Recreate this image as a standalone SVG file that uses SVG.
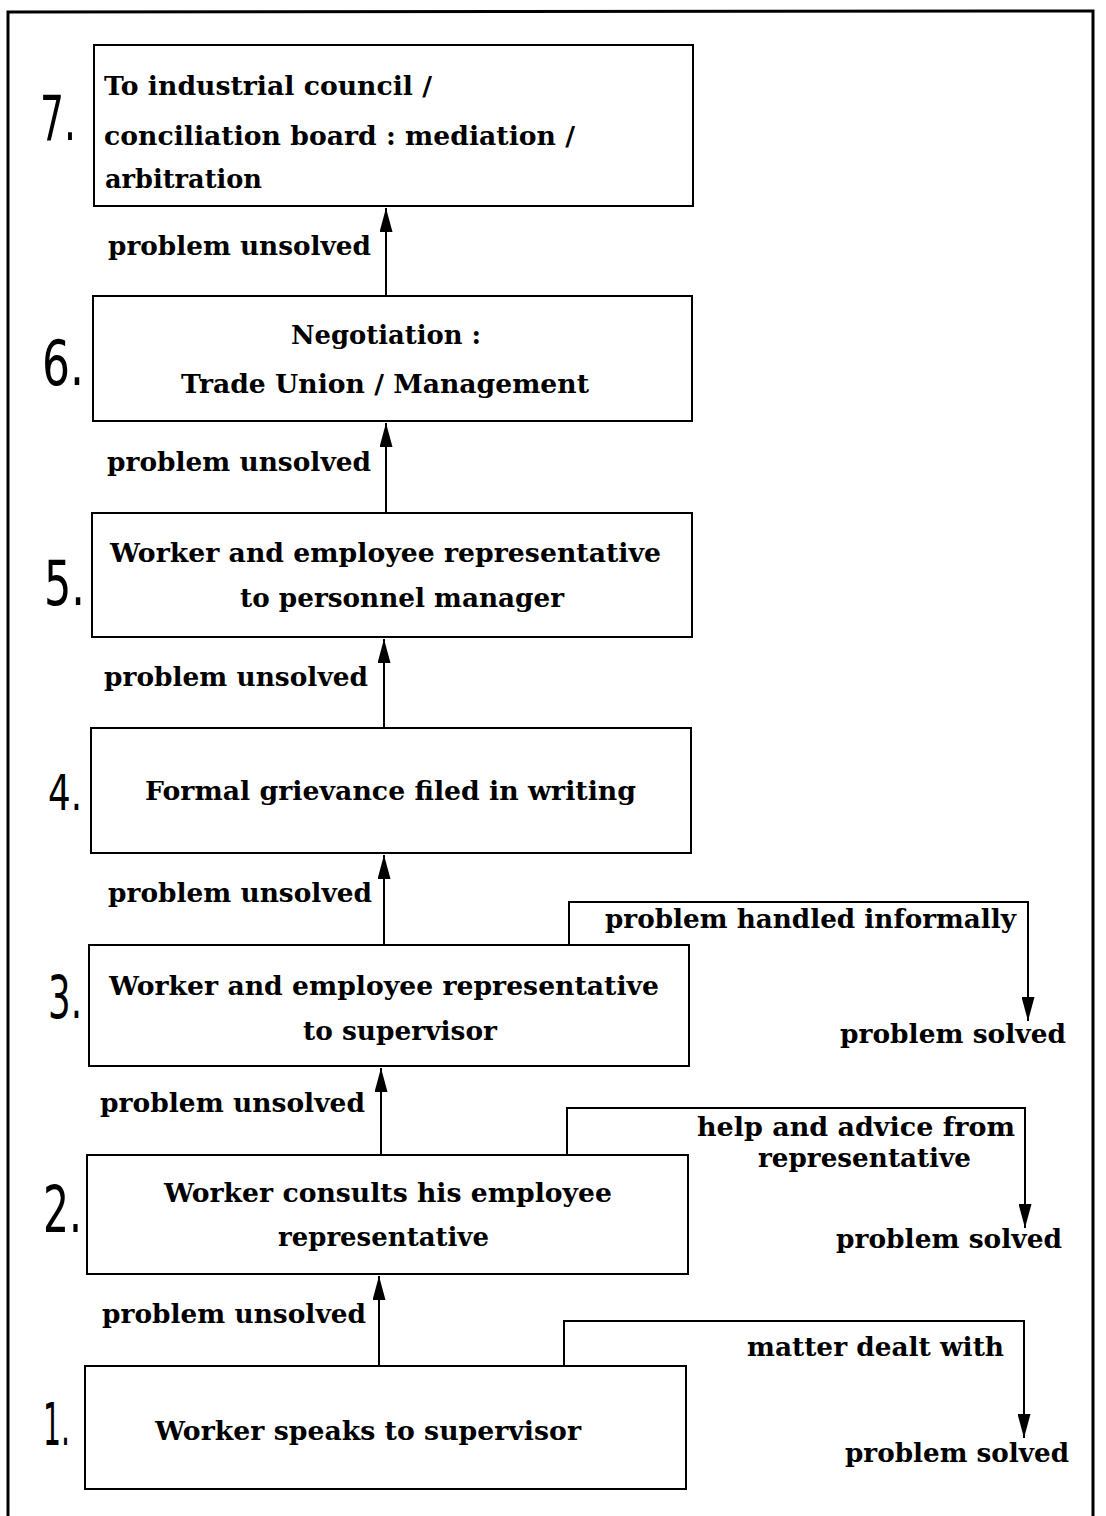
<svg xmlns="http://www.w3.org/2000/svg" width="1106" height="1516" viewBox="0 0 1106 1516">
  <style>
    .box { fill: #fff; stroke: #000; stroke-width: 2; }
    .t { font-family: "DejaVu Serif", "Liberation Serif", serif; font-weight: bold; font-size: 26px; fill: #000; }
    .num { font-family: "DejaVu Sans", "Liberation Sans", sans-serif; fill: #000; }
    .line { fill: none; stroke: #000; stroke-width: 2; }
  </style>
  <defs>
    <!-- long filled arrowhead pointing along the line direction; tip sits at the line end -->
    <marker id="head" viewBox="0 0 24 13" refX="24" refY="6.5" markerWidth="24" markerHeight="13" markerUnits="userSpaceOnUse" orient="auto">
      <path d="M0,0 L24,6.5 L0,13 Z" fill="#000"/>
    </marker>
  </defs>

  <!-- outer frame, open at the bottom -->
  <path d="M8,1516 L8,12 L1093,11 L1093,1516" fill="none" stroke="#000" stroke-width="3"/>

  <!-- connectors -->
  <g id="connectors">
    <line class="line" x1="386" y1="295" x2="386" y2="208" marker-end="url(#head)"/>
    <line class="line" x1="386" y1="512" x2="386" y2="423" marker-end="url(#head)"/>
    <line class="line" x1="384" y1="727" x2="384" y2="639" marker-end="url(#head)"/>
    <line class="line" x1="384" y1="944" x2="384" y2="855" marker-end="url(#head)"/>
    <line class="line" x1="381" y1="1154" x2="381" y2="1068" marker-end="url(#head)"/>
    <line class="line" x1="379" y1="1365" x2="379" y2="1276" marker-end="url(#head)"/>

    <polyline class="line" points="569,945 569,902 1028,902 1028,1021" marker-end="url(#head)"/>
    <polyline class="line" points="567,1155 567,1108 1025,1108 1025,1228" marker-end="url(#head)"/>
    <polyline class="line" points="564,1366 564,1321 1024,1321 1024,1438" marker-end="url(#head)"/>

    <text class="t" x="108" y="255" textLength="263" lengthAdjust="spacingAndGlyphs">problem unsolved</text>
    <text class="t" x="107" y="471" textLength="264" lengthAdjust="spacingAndGlyphs">problem unsolved</text>
    <text class="t" x="104" y="686" textLength="264" lengthAdjust="spacingAndGlyphs">problem unsolved</text>
    <text class="t" x="108" y="902" textLength="264" lengthAdjust="spacingAndGlyphs">problem unsolved</text>
    <text class="t" x="100" y="1112" textLength="265" lengthAdjust="spacingAndGlyphs">problem unsolved</text>
    <text class="t" x="102" y="1323" textLength="264" lengthAdjust="spacingAndGlyphs">problem unsolved</text>

    <text class="t" x="605" y="928" textLength="411" lengthAdjust="spacingAndGlyphs">problem handled informally</text>
    <text class="t" x="840" y="1043" textLength="226" lengthAdjust="spacingAndGlyphs">problem solved</text>

    <text class="t" x="697" y="1136" textLength="318" lengthAdjust="spacingAndGlyphs">help and advice from</text>
    <text class="t" x="758" y="1167" textLength="213" lengthAdjust="spacingAndGlyphs">representative</text>
    <text class="t" x="836" y="1248" textLength="226" lengthAdjust="spacingAndGlyphs">problem solved</text>

    <text class="t" x="747" y="1356" textLength="257" lengthAdjust="spacingAndGlyphs">matter dealt with</text>
    <text class="t" x="845" y="1462" textLength="224" lengthAdjust="spacingAndGlyphs">problem solved</text>
  </g>

  <!-- step 7 -->
  <g id="step7">
    <rect class="box" x="94" y="45" width="599" height="161"/>
    <text class="num" x="40" y="140" font-size="62" textLength="36" lengthAdjust="spacingAndGlyphs">7.</text>
    <text class="t" x="104" y="95" textLength="328" lengthAdjust="spacingAndGlyphs">To industrial council /</text>
    <text class="t" x="104" y="145" textLength="471" lengthAdjust="spacingAndGlyphs">conciliation board : mediation /</text>
    <text class="t" x="105" y="188" textLength="157" lengthAdjust="spacingAndGlyphs">arbitration</text>
  </g>

  <!-- step 6 -->
  <g id="step6">
    <rect class="box" x="93" y="296" width="599" height="125"/>
    <text class="num" x="42" y="385" font-size="62" textLength="42" lengthAdjust="spacingAndGlyphs">6.</text>
    <text class="t" x="291" y="344" textLength="190" lengthAdjust="spacingAndGlyphs">Negotiation :</text>
    <text class="t" x="181" y="393" textLength="408" lengthAdjust="spacingAndGlyphs">Trade Union / Management</text>
  </g>

  <!-- step 5 -->
  <g id="step5">
    <rect class="box" x="92" y="513" width="600" height="124"/>
    <text class="num" x="44" y="605" font-size="62" textLength="41" lengthAdjust="spacingAndGlyphs">5.</text>
    <text class="t" x="110" y="562" textLength="551" lengthAdjust="spacingAndGlyphs">Worker and employee representative</text>
    <text class="t" x="240" y="607" textLength="324" lengthAdjust="spacingAndGlyphs">to personnel manager</text>
  </g>

  <!-- step 4 -->
  <g id="step4">
    <rect class="box" x="91" y="728" width="600" height="125"/>
    <text class="num" x="48" y="810" font-size="50" textLength="34" lengthAdjust="spacingAndGlyphs">4.</text>
    <text class="t" x="145" y="800" textLength="491" lengthAdjust="spacingAndGlyphs">Formal grievance filed in writing</text>
  </g>

  <!-- step 3 -->
  <g id="step3">
    <rect class="box" x="89" y="945" width="600" height="121"/>
    <text class="num" x="48" y="1018" font-size="59" textLength="34" lengthAdjust="spacingAndGlyphs">3.</text>
    <text class="t" x="109" y="995" textLength="550" lengthAdjust="spacingAndGlyphs">Worker and employee representative</text>
    <text class="t" x="303" y="1040" textLength="194" lengthAdjust="spacingAndGlyphs">to supervisor</text>
  </g>

  <!-- step 2 -->
  <g id="step2">
    <rect class="box" x="87" y="1155" width="601" height="119"/>
    <text class="num" x="43" y="1232" font-size="64" textLength="39" lengthAdjust="spacingAndGlyphs">2.</text>
    <text class="t" x="164" y="1202" textLength="448" lengthAdjust="spacingAndGlyphs">Worker consults his employee</text>
    <text class="t" x="278" y="1246" textLength="211" lengthAdjust="spacingAndGlyphs">representative</text>
  </g>

  <!-- step 1 -->
  <g id="step1">
    <rect class="box" x="85" y="1366" width="601" height="123"/>
    <text class="num" x="43" y="1445" font-size="58" textLength="27" lengthAdjust="spacingAndGlyphs">1.</text>
    <text class="t" x="155" y="1440" textLength="426" lengthAdjust="spacingAndGlyphs">Worker speaks to supervisor</text>
  </g>
</svg>
